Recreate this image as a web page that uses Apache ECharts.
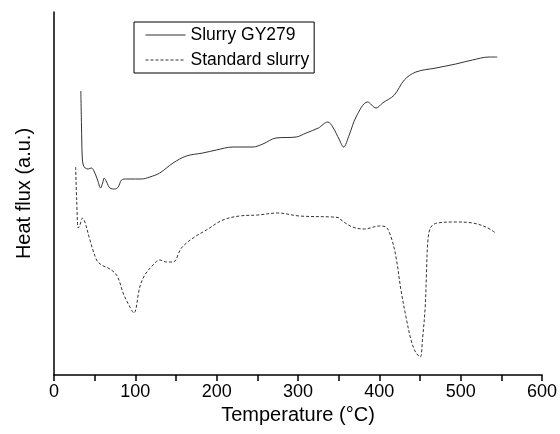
<!DOCTYPE html>
<html>
<head>
<meta charset="utf-8">
<script src="https://cdn.jsdelivr.net/npm/echarts@6/dist/echarts.min.js"></script>
<style>html,body{margin:0;padding:0;background:#fff;}#c{width:560px;height:434px;}</style>
</head>
<body>
<div id="c"></div>
<script>
// Slurry GY279 (solid)
var tempSolid = [33,33.8,34.7,36,38.3,42.1,45.8,48.6,53.6,57.3,59.8,61.7,64.7,68.7,74.8,78.9,83.1,89.2,100,107.6,117.8,130,146.4,162.8,183,199.6,220,244.5,256.8,273,297.8,310,325,336.6,342.7,351,356,363,371.4,385.6,396,404,418.4,430.7,445,469.6,494,514.5,535,545];
var fluxSolid = [284,250,218,210,207,206,207,205,195,187,192,197,193,187,186,188,195,196,196,196,198,202,212,219,222,225,228,228,231,237,238,242,247,253,248,235,228,240,258,273,267,272,280,295,303,307,311,315,318,318];
// Standard slurry (dashed)
var tempDashed = [26.6,27.9,29.8,31.9,35.2,38,44.2,52.4,58.5,68.7,77.7,85,92,98.2,105.5,111.7,121.8,130,138.3,146.4,156.7,171,187.4,207.7,228.2,250.7,275.2,301.8,342.7,351,353,367,381.6,400,408,414.4,420.5,426.6,432.8,439,444.5,450.3,453,456.4,458,459.8,463.4,471.5,494,514.5,531,543];
var fluxDashed = [208,175,147,150,157,153,135,115,110,106,99,82,70,62,88,100,110,115,113,113,127,137,145,155,159,160,162,159,158,157,155,148,146,149,148,138,118,85,58,35,23,18,35,68,102,135,148,152,153,152,148,142];
var seriesNames = ['Slurry GY279', 'Standard slurry'];
var xTitle = 'Temperature (°C)';
var yTitle = 'Heat flux (a.u.)';

function pairs(xs, ys){ return xs.map(function(x,i){ return [x, ys[i]]; }); }

var chart = echarts.init(document.getElementById('c'));
var font = 'Liberation Sans, Arial, sans-serif';
chart.setOption({
  animation: false,
  backgroundColor: '#fff',
  textStyle: { fontFamily: font, color: '#000' },
  grid: { left: 54, right: 17, top: 12, bottom: 59 },
  legend: {
    left: 134, top: 22, orient: 'vertical',
    borderColor: '#000', borderWidth: 1,
    padding: [4, 5, 4, 11],
    itemWidth: 40, itemHeight: 14, itemGap: 7,
    itemStyle: { opacity: 0 },
    lineStyle: { width: 1 },
    textStyle: { fontSize: 17.5, fontFamily: font, color: '#000' },
    data: seriesNames
  },
  xAxis: {
    type: 'value', min: 0, max: 600, interval: 100,
    name: xTitle, nameLocation: 'middle', nameGap: 25,
    nameTextStyle: { fontSize: 20, fontFamily: font, color: '#000' },
    axisLine: { show: true, lineStyle: { color: '#000', width: 1.5 } },
    axisTick: { show: true, inside: false, length: 6, lineStyle: { color: '#000', width: 1.5 } },
    minorTick: { show: true, splitNumber: 2, length: 6, lineStyle: { color: '#000', width: 1.5 } },
    axisLabel: { fontSize: 18, margin: 8, color: '#000', fontFamily: font },
    splitLine: { show: false }
  },
  yAxis: {
    type: 'value', min: 0, max: 363,
    name: yTitle, nameLocation: 'middle', nameGap: 20, nameRotate: 90,
    nameTextStyle: { fontSize: 20, fontFamily: font, color: '#000' },
    axisLine: { show: true, onZero: false, lineStyle: { color: '#000', width: 1.5 } },
    axisTick: { show: false },
    axisLabel: { show: false },
    splitLine: { show: false }
  },
  series: [
    {
      name: seriesNames[0], type: 'line', symbol: 'none', smooth: 0.35,
      data: pairs(tempSolid, fluxSolid),
      lineStyle: { color: '#333', width: 1, type: 'solid' },
      itemStyle: { color: '#333' }
    },
    {
      name: seriesNames[1], type: 'line', symbol: 'none', smooth: 0.35,
      data: pairs(tempDashed, fluxDashed),
      lineStyle: { color: '#333', width: 1, type: [3, 2] },
      itemStyle: { color: '#333' }
    }
  ]
});
</script>
</body>
</html>
